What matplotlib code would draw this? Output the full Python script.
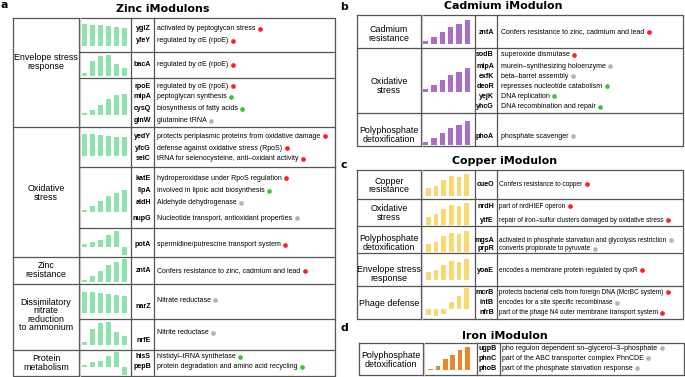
import matplotlib
matplotlib.use("Agg")
import matplotlib.pyplot as plt

# ---------------- data ----------------
zinc_groups = ["Envelope stress\nresponse", "Oxidative\nstress", "Zinc\nresistance",
               "Dissimilatory\nnitrate\nreduction\nto ammonium", "Protein\nmetabolism"]
zinc_group_size = [3, 3, 1, 2, 1]
zinc_genes = [["ygiZ", "yfeY"], ["bacA"], ["rpoE", "mipA", "cysQ", "glnW"],
              ["yedY", "yfcG", "selC"], ["katE", "lipA", "aldH", "nupG"], ["potA"],
              ["zntA"], ["narZ"], ["nrfE"], ["hisS", "pepB"]]
zinc_desc = [["activated by peptoglycan stress", "regulated by σE (rpoE)"],
             ["regulated by σE (rpoE)"],
             ["regulated by σE (rpoE)", "peptoglycan synthesis", "biosynthesis of fatty acids", "glutamine tRNA"],
             ["protects periplasmic proteins from oxidative damage", "defense against oxidative stress (RpoS)",
              "tRNA for selenocysteine, anti\u2013oxidant activity"],
             ["hydroperoxidase under RpoS regulation", "involved in lipoic acid biosynthesis",
              "Aldehyde dehydrogenase", "Nucleotide transport, antioxidant properties"],
             ["spermidine/putrescine transport system"],
             ["Confers resistance to zinc, cadmium and lead"],
             ["Nitrate reductase"],
             ["Nitrite reductase"],
             ["histidyl\u2013tRNA synthetase", "protein degradation and amino acid recycling"]]
zinc_dots = [["r", "r"], ["r"], ["r", "g", "g", "k"], ["r", "r", "r"], ["r", "g", "k", "k"],
             ["r"], ["r"], ["k"], ["k"], ["g", "g"]]
zinc_bars = [[1.0, 0.97, 0.94, 0.89, 0.86, 0.84],
             [0.12, 0.70, 0.95, 1.0, 0.59, 0.38],
             [0.11, 0.25, 0.50, 0.75, 0.94, 1.0],
             [1.0, 1.0, 0.95, 0.89, 0.86, 0.85],
             [0.08, 0.26, 0.49, 0.74, 0.88, 1.0],
             [0.15, 0.32, 0.43, 0.74, 1.0, -0.53],
             [0.09, 0.26, 0.49, 0.74, 0.89, 1.0],
             [1.0, 1.0, 0.95, 0.91, 0.86, 0.83],
             [0.12, 0.68, 0.94, 1.0, 0.58, 0.39],
             [0.09, 0.28, 0.40, 0.70, 1.0, -0.58]]

cad_groups = ["Cadmium\nresistance", "Oxidative\nstress", "Polyphosphate\ndetoxification"]
cad_group_size = [1, 1, 1]
cad_genes = [["zntA"], ["sodB", "mipA", "exfK", "deoR", "yejK", "yhcG"], ["phoA"]]
cad_desc = [["Confers resistance to zinc, cadmium and lead"],
            ["superoxide dismutase", "murein\u2013synthesizing holoenzyme", "beta\u2013barrel assembly",
             "represses nucleotide catabolism", "DNA replication", "DNA recombination and repair"],
            ["phosphate scavenger"]]
cad_dots = [["r"], ["r", "k", "k", "g", "g", "g"], ["k"]]
cad_bars = [[0.11, 0.31, 0.49, 0.70, 0.85, 1.0],
            [0.11, 0.28, 0.49, 0.72, 0.83, 1.0],
            [0.11, 0.31, 0.50, 0.71, 0.83, 1.0]]

cu_groups = ["Copper\nresistance", "Oxidative\nstress", "Polyphosphate\ndetoxification",
             "Envelope stress\nresponse", "Phage defense"]
cu_group_size = [1, 1, 1, 1, 1]
cu_genes = [["cueO"], ["nrdH", "ytfE"], ["mgsA", "prpR"], ["yoaE"], ["mcrB", "intB", "nfrB"]]
cu_desc = [["Confers resistance to copper"],
           ["part of nrdHIEF operon", "repair of iron\u2013sulfur clusters damaged by oxidative stress"],
           ["activated in phosphate starvation and glycolysis restriction", "converts propionate to pyruvate"],
           ["encodes a membrane protein regulated by cpxR"],
           ["protects bacterial cells from foreign DNA (McrBC system)",
            "encodes for a site specific recombinase",
            "part of the phage N4 outer membrane transport system"]]
cu_dots = [["r"], ["r", "r"], ["k", "k"], ["r"], ["r", "k", "r"]]
cu_bars = [[0.37, 0.46, 0.72, 0.91, 0.86, 1.0],
           [0.38, 0.50, 0.73, 0.92, 0.86, 1.0],
           [0.37, 0.48, 0.74, 0.92, 0.86, 1.0],
           [0.37, 0.46, 0.71, 0.90, 0.87, 1.0],
           [-0.29, -0.32, -0.21, 0.35, 0.63, 1.0]]

fe_groups = ["Polyphosphate\ndetoxification"]
fe_group_size = [1]
fe_genes = [["ugpB", "phnC", "phoB"]]
fe_desc = [["pho regulon dependent sn\u2013glycerol\u20133\u2013phosphate",
            "part of the ABC transporter complex PhnCDE",
            "part of the phosphate starvation response"]]
fe_dots = [["k", "k", "k"]]
fe_bars = [[0.06, 0.18, 0.46, 0.65, 0.87, 1.0]]

# ---------------- layout (pixels) ----------------
zinc_lay = dict(left=13, c1=79, c2=131, c3=154, right=335,
                edges=[18, 52, 78, 127, 167, 228, 257, 284, 319, 350, 376],
                gene_y=[[29, 41], [65], [86, 97, 109, 121], [136, 148, 159], [178, 191, 203, 218],
                        [245], [271], [307], [340], [357, 367]],
                desc_y=[[29, 41], [65], [86, 97, 109, 121], [136, 148, 159], [178, 191, 203, 218],
                        [245], [271], [300], [333], [357, 367]],
                chart_yc=[35, 65.5, 104.5, 145, 201, 243, 270.5, 302.5, 333.5, 363.5],
                chart_h=[22, 21, 21, 22, 22, 24, 23, 21, 23, 23],
                label_y=[62, 193, 270, 315, 363],
                chart_x=(82, 127), gene_x=151, desc_x=157, desc_fs=5.0)
cad_lay = dict(left=357, c1=421, c2=475, c3=497, right=683,
               edges=[15, 48, 113, 146],
               gene_y=[[32], [55, 66, 76, 86, 96, 107], [136]],
               desc_y=[[32], [55, 66, 76, 86, 96, 107], [136]],
               chart_yc=[32, 80, 133], chart_h=[24, 24, 24],
               label_y=[34, 86, 135],
               chart_x=(423, 470), gene_x=494, desc_x=501, desc_fs=5.0)
cu_lay = dict(left=357, c1=421, c2=475, c3=497, right=683,
              edges=[170, 199, 226, 253, 286, 319],
              gene_y=[[184], [206, 220], [240, 249], [270], [292, 303, 313]],
              desc_y=[[184], [206, 220], [240, 249], [270], [292, 303, 313]],
              chart_yc=[185, 214, 241.5, 269.5, 302], chart_h=[22, 22, 21, 21, 28],
              label_y=[185.5, 213, 243, 274, 303],
              chart_x=(426, 469), gene_x=494, desc_x=499, desc_fs=4.7)
fe_lay = dict(left=359, c1=423, c2=477, c3=500, right=684,
              edges=[343, 375],
              gene_y=[[348, 358, 368]], desc_y=[[348, 358, 368]],
              chart_yc=[358.5], chart_h=[23], label_y=[360],
              chart_x=(428, 470), gene_x=497, desc_x=502, desc_fs=5.0)

dot_colors = {"r": "#ff1f2a", "g": "#3dc43a", "k": "#b5b5b5"}
line_c = "#555555"
txt_font = ["Liberation Sans"]

W, H = 685, 377
fig = plt.figure(figsize=(W / 100, H / 100), dpi=100)
ax = fig.add_axes([0, 0, 1, 1])
ax.set_xlim(0, W)
ax.set_ylim(H, 0)
ax.axis("off")

dot_items = []


def draw_table(groups, sizes, genes, desc, dots, bars, color, lay):
    e = lay["edges"]
    L, R = lay["left"], lay["right"]
    # borders and grid
    ax.plot([L, R, R, L, L], [e[0], e[0], e[-1], e[-1], e[0]], color=line_c, lw=0.9)
    for cx in (lay["c1"], lay["c2"], lay["c3"]):
        ax.plot([cx, cx], [e[0], e[-1]], color=line_c, lw=0.9)
    ax.plot([lay["c1"] + 1.5] * 2, [e[0], e[-1]], color="#c8c8c8", lw=0.8)
    bounds = [sum(sizes[:k]) for k in range(1, len(sizes))]
    for i in range(1, len(e) - 1):
        x0 = L if i in bounds else lay["c1"]
        ax.plot([x0, R], [e[i], e[i]], color=line_c, lw=0.9)
    # group labels
    lx = (L + lay["c1"]) / 2
    for g, ly in zip(groups, lay["label_y"]):
        ax.text(lx, ly, g, ha="center", va="center", fontsize=6.4, family=txt_font,
                linespacing=0.95, color="black")
    # rows
    for i in range(len(genes)):
        for gname, gy in zip(genes[i], lay["gene_y"][i]):
            ax.text(lay["gene_x"], gy, gname, ha="right", va="center", fontsize=5.1,
                    family=txt_font, weight="bold", color="black")
        for d, c, dy in zip(desc[i], dots[i], lay["desc_y"][i]):
            t = ax.text(lay["desc_x"], dy, d, ha="left", va="center", fontsize=lay["desc_fs"],
                        family=txt_font, color="black")
            dot_items.append((t, c))
        # mini bar chart
        x0, x1 = lay["chart_x"]
        yc, h = lay["chart_yc"][i], lay["chart_h"][i]
        bax = fig.add_axes([x0 / W, 1 - (yc + h / 2) / H, (x1 - x0) / W, h / H])
        vals = bars[i]
        bax.bar(range(len(vals)), vals, width=0.62, color=color)
        bax.set_xlim(-0.33, len(vals) - 0.67)
        bax.set_ylim(min(0, min(vals)), max(vals))
        bax.axis("off")


draw_table(zinc_groups, zinc_group_size, zinc_genes, zinc_desc, zinc_dots, zinc_bars, "#8ee2ab", zinc_lay)
draw_table(cad_groups, cad_group_size, cad_genes, cad_desc, cad_dots, cad_bars, "#a96fc6", cad_lay)
draw_table(cu_groups, cu_group_size, cu_genes, cu_desc, cu_dots, cu_bars, "#f7d96f", cu_lay)
draw_table(fe_groups, fe_group_size, fe_genes, fe_desc, fe_dots, fe_bars, "#e9852b", fe_lay)

# titles and panel letters
ax.text(163, 9, "Zinc iModulons", ha="center", va="center", fontsize=7.9, weight="bold")
ax.text(503, 6, "Cadmium iModulon", ha="center", va="center", fontsize=7.9, weight="bold")
ax.text(505, 161, "Copper iModulon", ha="center", va="center", fontsize=7.9, weight="bold")
ax.text(505, 336, "Iron iModulon", ha="center", va="center", fontsize=7.9, weight="bold")
for letter, lx, ly in [("a", 4, 5), ("b", 344, 7), ("c", 344, 165), ("d", 344, 328)]:
    ax.text(lx, ly, letter, ha="center", va="center", fontsize=7.8, weight="bold")

# status dots right after each description
fig.canvas.draw()
rend = fig.canvas.get_renderer()
inv = ax.transData.inverted()
for t, c in dot_items:
    bb = t.get_window_extent(rend)
    xe, _ = inv.transform((bb.x1, bb.y0))
    _, ty = t.get_position()
    ax.plot(min(xe + 4.5, 679.5), ty, "o", ms=3.4, color=dot_colors[c], mec="none")

fig.savefig("out.png", dpi=100)
